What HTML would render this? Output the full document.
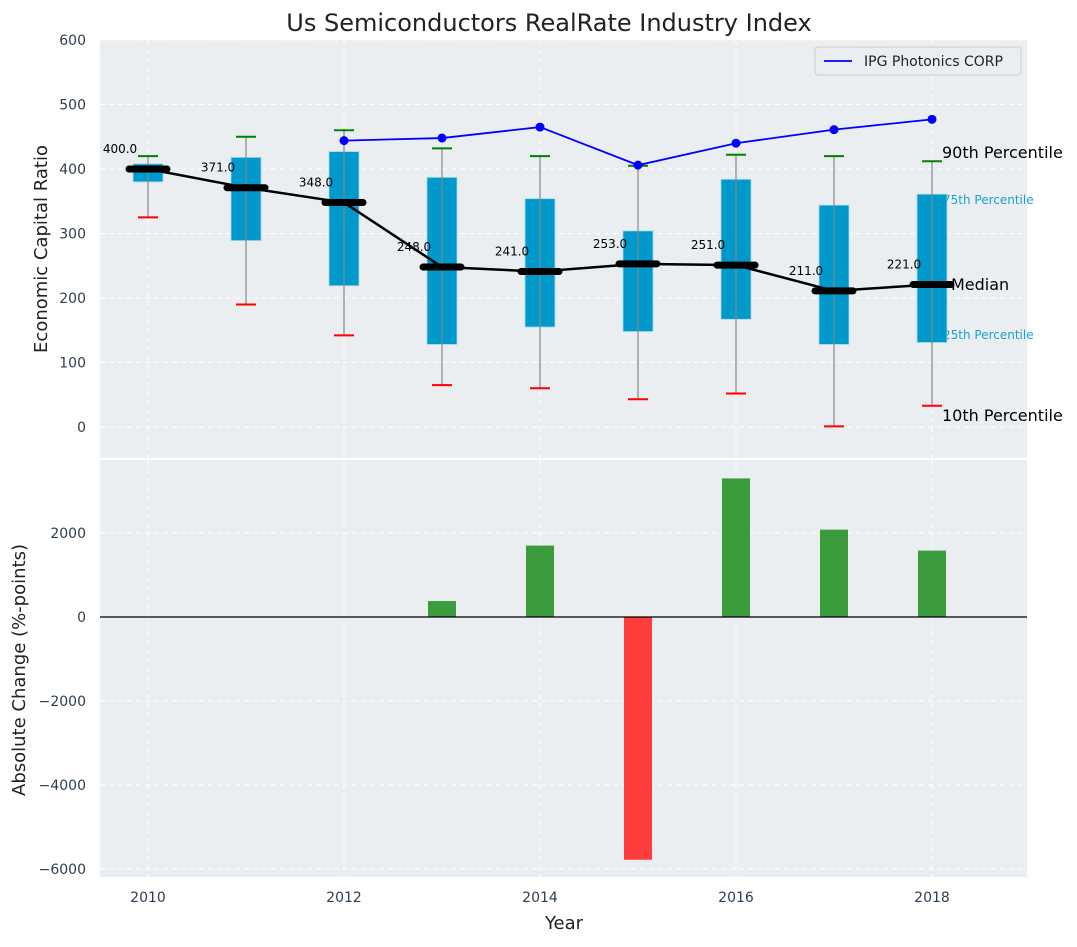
<!DOCTYPE html>
<html><head><meta charset="utf-8"><style>
body{margin:0;background:#fff;font-family:"Liberation Sans","DejaVu Sans",sans-serif}
svg text{font-family:"DejaVu Sans","Liberation Sans",sans-serif}
</style></head><body>
<svg id="c" width="1077" height="942" xmlns="http://www.w3.org/2000/svg"></svg>
<script>
const years=[2010,2011,2012,2013,2014,2015,2016,2017,2018];
const p10=[325,190,142,65,60,43,52,1,33];
const p90=[420,450,460,432,420,405,422,420,412];
const p25=[380,289,219,128,155,148,167,128,131];
const p75=[408,418,427,387,354,304,384,344,361];
const medians=[400,371,348,248,241,253,251,211,221];
const ipgYears=[2012,2013,2014,2015,2016,2017,2018];
const ipgValues=[444,448,465,406,440,461,477];
const changeYears=[2013,2014,2015,2016,2017,2018];
const changeValues=[380,1700,-5780,3300,2080,1580];
const topTicks=[0,100,200,300,400,500,600];
const botTicks=[-6000,-4000,-2000,0,2000];
const xTicks=[2010,2012,2014,2016,2018];

const svg=document.getElementById('c');const NS='http://www.w3.org/2000/svg';
function el(t,a,txt){const e=document.createElementNS(NS,t);for(const k in a)e.setAttribute(k,a[k]);if(txt!==undefined)e.textContent=txt;svg.appendChild(e);return e;}
const L=100,R=1027;
const X=v=>148+(v-2010)*98;
const Yt=v=>427-v*0.645;
const Yb=v=>617-v*0.042;

// panels
let e=el('rect',{x:L,y:40,width:R-L,height:418,fill:'#eaeef0'});

e=el('rect',{x:L,y:460,width:R-L,height:417,fill:'#eaeef0'});

// grid
xTicks.forEach(t=>{
 el('line',{x1:X(t),x2:X(t),y1:40,y2:458,stroke:'#fff','stroke-dasharray':'5,4','stroke-width':1});
 el('line',{x1:X(t),x2:X(t),y1:460,y2:877,stroke:'#fff','stroke-dasharray':'5,4','stroke-width':1});
 e=el('text',{x:X(t),y:902,'font-size':14,fill:'#2e3e50','text-anchor':'middle'},t);
 
});
topTicks.forEach(t=>{
 el('line',{x1:L,x2:R,y1:Yt(t),y2:Yt(t),stroke:'#fff','stroke-dasharray':'5,4'});
 e=el('text',{x:86,y:Yt(t)+5,'font-size':14,fill:'#2e3e50','text-anchor':'end'},t);
 
});
botTicks.forEach(t=>{
 el('line',{x1:L,x2:R,y1:Yb(t),y2:Yb(t),stroke:'#fff','stroke-dasharray':'5,4'});
 e=el('text',{x:86,y:Yb(t)+5,'font-size':14,fill:'#2e3e50','text-anchor':'end'},(t<0?'\u2212'+(-t):t));
 
});
// percentile labels (drawn under boxes)
const lx=942;
e=el('text',{x:lx,y:158,'font-size':16,fill:'#000'},'90th Percentile');
e=el('text',{x:lx+1,y:204,'font-size':12,fill:'#1aa0d0'},'75th Percentile');
e=el('text',{x:951,y:290,'font-size':16,fill:'#000'},'Median');
e=el('text',{x:lx+1,y:339,'font-size':12,fill:'#1aa0d0'},'25th Percentile');
e=el('text',{x:lx,y:421,'font-size':16,fill:'#000'},'10th Percentile');
// boxes
years.forEach((y,i)=>{
 const x=X(y);
 e=el('rect',{x:x-15,y:Yt(p75[i]),width:30,height:Yt(p25[i])-Yt(p75[i]),fill:'#0099cc',stroke:'#a8d8ea','stroke-width':0.8});
 
 e=el('line',{x1:x,x2:x,y1:Yt(p10[i]),y2:Yt(p90[i]),stroke:'#888','stroke-width':1.2});
 
 e=el('line',{x1:x-10,x2:x+10,y1:Yt(p90[i]),y2:Yt(p90[i]),stroke:'green','stroke-width':2});
 
 e=el('line',{x1:x-10,x2:x+10,y1:Yt(p10[i]),y2:Yt(p10[i]),stroke:'red','stroke-width':2});
 
});
// median line
e=el('polyline',{points:years.map((y,i)=>X(y)+','+Yt(medians[i])).join(' '),fill:'none',stroke:'#000','stroke-width':2.5});

years.forEach((y,i)=>{
 e=el('line',{x1:X(y)-19,x2:X(y)+19,y1:Yt(medians[i]),y2:Yt(medians[i]),stroke:'#000','stroke-width':7,'stroke-linecap':'round'});
 
 e=el('text',{x:X(y)-28,y:Yt(medians[i])-16,'font-size':12,fill:'#000','text-anchor':'middle'},medians[i].toFixed(1));
 
});
// IPG line
e=el('polyline',{points:ipgYears.map((y,i)=>X(y)+','+Yt(ipgValues[i])).join(' '),fill:'none',stroke:'#0000ff','stroke-width':1.8});

ipgYears.forEach((y,i)=>{e=el('circle',{cx:X(y),cy:Yt(ipgValues[i]),r:4.5,fill:'#0000ff'});
 });
// legend
e=el('rect',{x:815,y:47,width:206,height:28,fill:'#eaeef0',stroke:'#ccc',rx:3});

el('line',{x1:824,x2:852,y1:61,y2:61,stroke:'#0000ff','stroke-width':1.8});
e=el('text',{x:864,y:66,'font-size':14,fill:'#222'},'IPG Photonics CORP');

// bars
changeYears.forEach((y,i)=>{
 const v=changeValues[i];
 e=el('rect',{x:X(y)-14,y:Math.min(Yb(v),Yb(0)),width:28,height:Math.abs(Yb(v)-Yb(0)),fill:v>=0?'#3b9c3d':'#ff3b3b'});
 
});
el('line',{x1:L,x2:R,y1:Yb(0),y2:Yb(0),stroke:'#000','stroke-width':1.2});
// titles
e=el('text',{x:549,y:31,'font-size':24,fill:'#222','text-anchor':'middle'},'Us Semiconductors RealRate Industry Index');

e=el('text',{x:0,y:0,'font-size':18,fill:'#222','text-anchor':'middle',transform:'translate(47,249) rotate(-90)'},'Economic Capital Ratio');

e=el('text',{x:0,y:0,'font-size':18,fill:'#222','text-anchor':'middle',transform:'translate(25,670) rotate(-90)'},'Absolute Change (%-points)');

e=el('text',{x:564,y:929,'font-size':18,fill:'#222','text-anchor':'middle'},'Year');

</script>
</body></html>
